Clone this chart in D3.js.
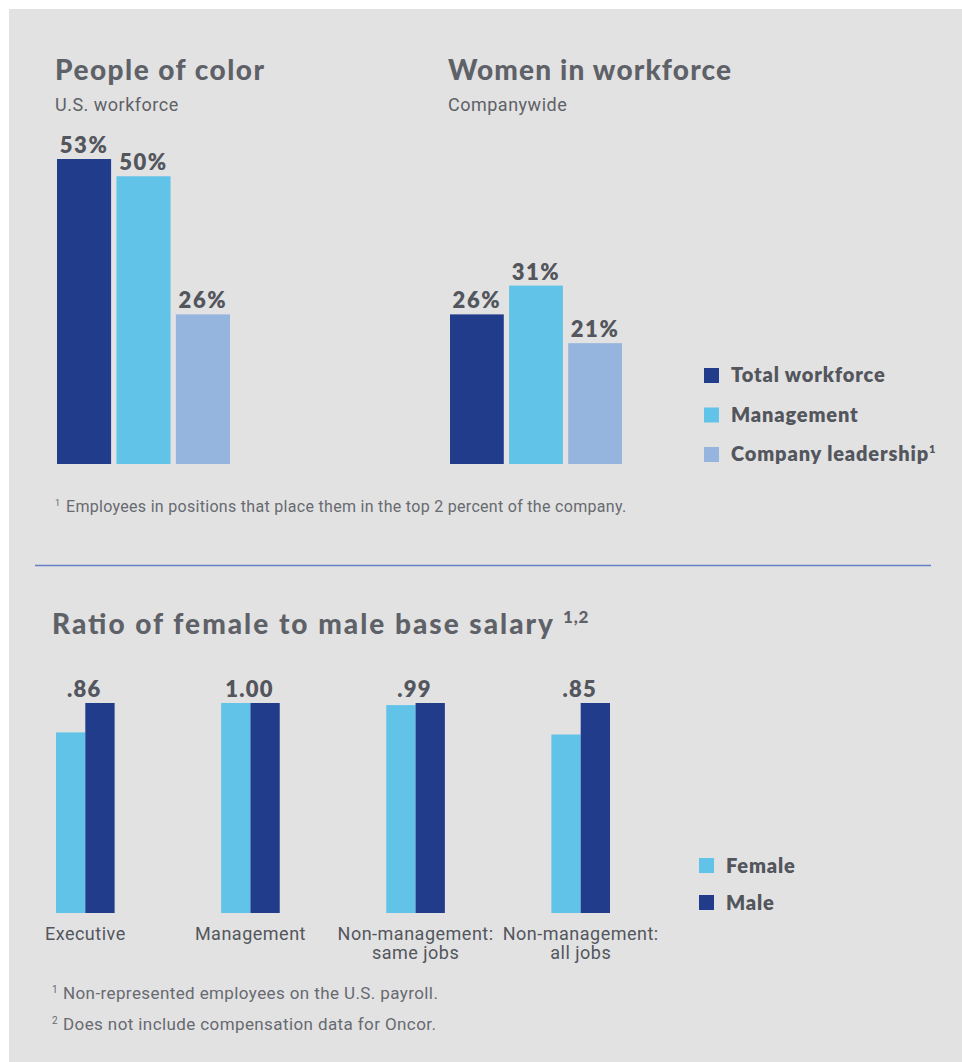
<!DOCTYPE html>
<html>
<head>
<meta charset="utf-8">
<script src="https://cdn.jsdelivr.net/npm/d3@7"></script>
<style>
  html, body { margin: 0; padding: 0; background: #ffffff; }
  svg { display: block; }
</style>
</head>
<body>
<div id="chart"></div>
<script>
// ---- data ----
const groupSeries = ["Total workforce", "Management", "Company leadership"];
const peopleOfColor = [53, 50, 26];
const womenInWorkforce = [26, 31, 21];

const salaryCategories = [["Executive"], ["Management"], ["Non-management:", "same jobs"], ["Non-management:", "all jobs"]];
const salarySeries = ["Female", "Male"];
const femaleRatio = [0.86, 1.00, 0.99, 0.85];
const maleRatio = [1.00, 1.00, 1.00, 1.00];
const ratioLabels = [".86", "1.00", ".99", ".85"];

// ---- styles ----
const W = 962, H = 1062;
const bg = "#e2e2e2";
const titleColor = "#5e6167";
const labelColor = "#53565d";
const noteColor = "#676a71";
const seriesColors = ["#223c8c", "#62c3e8", "#95b5df"];
const sexColors = { Female: "#62c3e8", Male: "#223c8c" };
const titleFont = "Lato, 'DejaVu Sans', sans-serif";
const bodyFont = "Roboto, 'Liberation Sans', sans-serif";

const svg = d3.select("#chart").append("svg")
  .attr("width", W).attr("height", H);

svg.append("rect").attr("x", 9).attr("y", 9)
  .attr("width", W - 9).attr("height", H - 9).attr("fill", bg);

function title(x, y, text, size, len) {
  return svg.append("text").attr("x", x).attr("y", y)
    .attr("font-family", titleFont).attr("font-weight", 900)
    .attr("font-size", size).attr("fill", titleColor)
    .attr("textLength", len).attr("lengthAdjust", "spacing")
    .text(text);
}
function subtitle(x, y, text) {
  return svg.append("text").attr("x", x).attr("y", y)
    .attr("font-family", bodyFont).attr("font-size", 18)
    .attr("letter-spacing", 0.5)
    .attr("fill", titleColor).text(text);
}

// ---- top panels: percentage bars ----
const topBase = 464;
const yTop = d3.scaleLinear().domain([0, 53]).range([topBase, 159]);

function percentPanel(x0, x1, values, head, sub, headLen) {
  title(x0 - 2, 80, head, 28, headLen);
  subtitle(x0 - 2, 111, sub);
  const x = d3.scaleBand().domain(groupSeries).range([x0, x1]).paddingInner(0.09);
  const g = svg.append("g");
  g.selectAll("rect").data(values).join("rect")
    .attr("x", (d, i) => x(groupSeries[i]))
    .attr("y", d => yTop(d))
    .attr("width", x.bandwidth())
    .attr("height", d => topBase - yTop(d))
    .attr("fill", (d, i) => seriesColors[i]);
  g.selectAll("text").data(values).join("text")
    .attr("x", (d, i) => x(groupSeries[i]) + x.bandwidth() / 2)
    .attr("y", d => yTop(d) - 6)
    .attr("text-anchor", "middle")
    .attr("font-family", titleFont).attr("font-weight", 800)
    .attr("font-size", 22).attr("letter-spacing", 1.6).attr("fill", labelColor)
    .text(d => d + "%");
}
percentPanel(57, 230, peopleOfColor, "People of color", "U.S. workforce", 209);
percentPanel(450, 622, womenInWorkforce, "Women in workforce", "Companywide", 283);

// top legend
const legTop = svg.append("g");
groupSeries.forEach((s, i) => {
  const yy = 382 + i * 39.5;
  legTop.append("rect").attr("x", 704).attr("y", yy - 14).attr("width", 15).attr("height", 15)
    .attr("fill", seriesColors[i]);
  const t = legTop.append("text").attr("x", 731).attr("y", yy)
    .attr("font-family", titleFont).attr("font-weight", 800)
    .attr("font-size", 20).attr("letter-spacing", 0.85).attr("fill", labelColor).text(s);
  if (i === 2) t.append("tspan").attr("dy", -8).attr("font-size", 11).text("1");
});

// top footnote
const fn1 = svg.append("text").attr("x", 55).attr("y", 512)
  .attr("font-family", bodyFont).attr("font-size", 16).attr("letter-spacing", 0.3).attr("fill", noteColor);
fn1.append("tspan").attr("font-size", 9).attr("dy", -6).text("1");
fn1.append("tspan").attr("x", 66).attr("dy", 6).text("Employees in positions that place them in the top 2 percent of the company.");

// divider
svg.append("line").attr("x1", 35).attr("x2", 931).attr("y1", 565.5).attr("y2", 565.5)
  .attr("stroke", "#6380c2").attr("stroke-width", 1.5);

// ---- bottom panel: salary ratio ----
title(52, 634, "Ratio of female to male base salary", 28, 501);
svg.append("text").attr("x", 563).attr("y", 623)
  .attr("font-family", titleFont).attr("font-weight", 900)
  .attr("font-size", 17).attr("letter-spacing", 0.8).attr("fill", titleColor).text("1,2");

const botBase = 913;
const yBot = d3.scaleLinear().domain([0, 1]).range([botBase, 703]);
const catKeys = salaryCategories.map(c => c.join(" "));
const x0 = d3.scaleBand().domain(catKeys).range([56, 610]).paddingInner(0.645);
const x1 = d3.scaleBand().domain(salarySeries).range([0, x0.bandwidth()]);

const rows = catKeys.map((k, i) => ({ key: k, lines: salaryCategories[i], Female: femaleRatio[i], Male: maleRatio[i], label: ratioLabels[i] }));

const groups = svg.append("g").selectAll("g").data(rows).join("g")
  .attr("transform", d => `translate(${x0(d.key)},0)`);
groups.selectAll("rect").data(d => salarySeries.map(s => ({ s, v: d[s] }))).join("rect")
  .attr("x", d => x1(d.s))
  .attr("y", d => yBot(d.v))
  .attr("width", x1.bandwidth())
  .attr("height", d => botBase - yBot(d.v))
  .attr("fill", d => sexColors[d.s]);
groups.append("text")
  .attr("x", x0.bandwidth() / 2 - 1)
  .attr("y", d => yBot(Math.max(d.Female, d.Male)) - 6)
  .attr("text-anchor", "middle")
  .attr("font-family", titleFont).attr("font-weight", 800)
  .attr("font-size", 22).attr("letter-spacing", 1.2).attr("fill", labelColor)
  .text(d => d.label);
groups.append("text")
  .attr("text-anchor", "middle")
  .attr("font-family", bodyFont).attr("font-size", 18).attr("letter-spacing", 0.5)
  .attr("fill", labelColor)
  .selectAll("tspan").data(d => d.lines).join("tspan")
  .attr("x", x0.bandwidth() / 2)
  .attr("y", (d, i) => 940 + i * 19)
  .text(d => d);

// bottom legend
salarySeries.forEach((s, i) => {
  const yy = 873 + i * 37;
  svg.append("rect").attr("x", 699).attr("y", yy - 15).attr("width", 15).attr("height", 15)
    .attr("fill", sexColors[s]);
  svg.append("text").attr("x", 726).attr("y", yy)
    .attr("font-family", titleFont).attr("font-weight", 800)
    .attr("font-size", 20).attr("letter-spacing", 0.85).attr("fill", labelColor).text(s);
});

// bottom footnotes
const notes = ["Non-represented employees on the U.S. payroll.", "Does not include compensation data for Oncor."];
notes.forEach((n, i) => {
  const t = svg.append("text").attr("x", 52).attr("y", 999 + i * 31)
    .attr("font-family", bodyFont).attr("font-size", 17).attr("letter-spacing", 0.4).attr("fill", noteColor);
  t.append("tspan").attr("font-size", 10).attr("dy", -6).text(String(i + 1));
  t.append("tspan").attr("x", 63).attr("dy", 6).text(n);
});
</script>
</body>
</html>
